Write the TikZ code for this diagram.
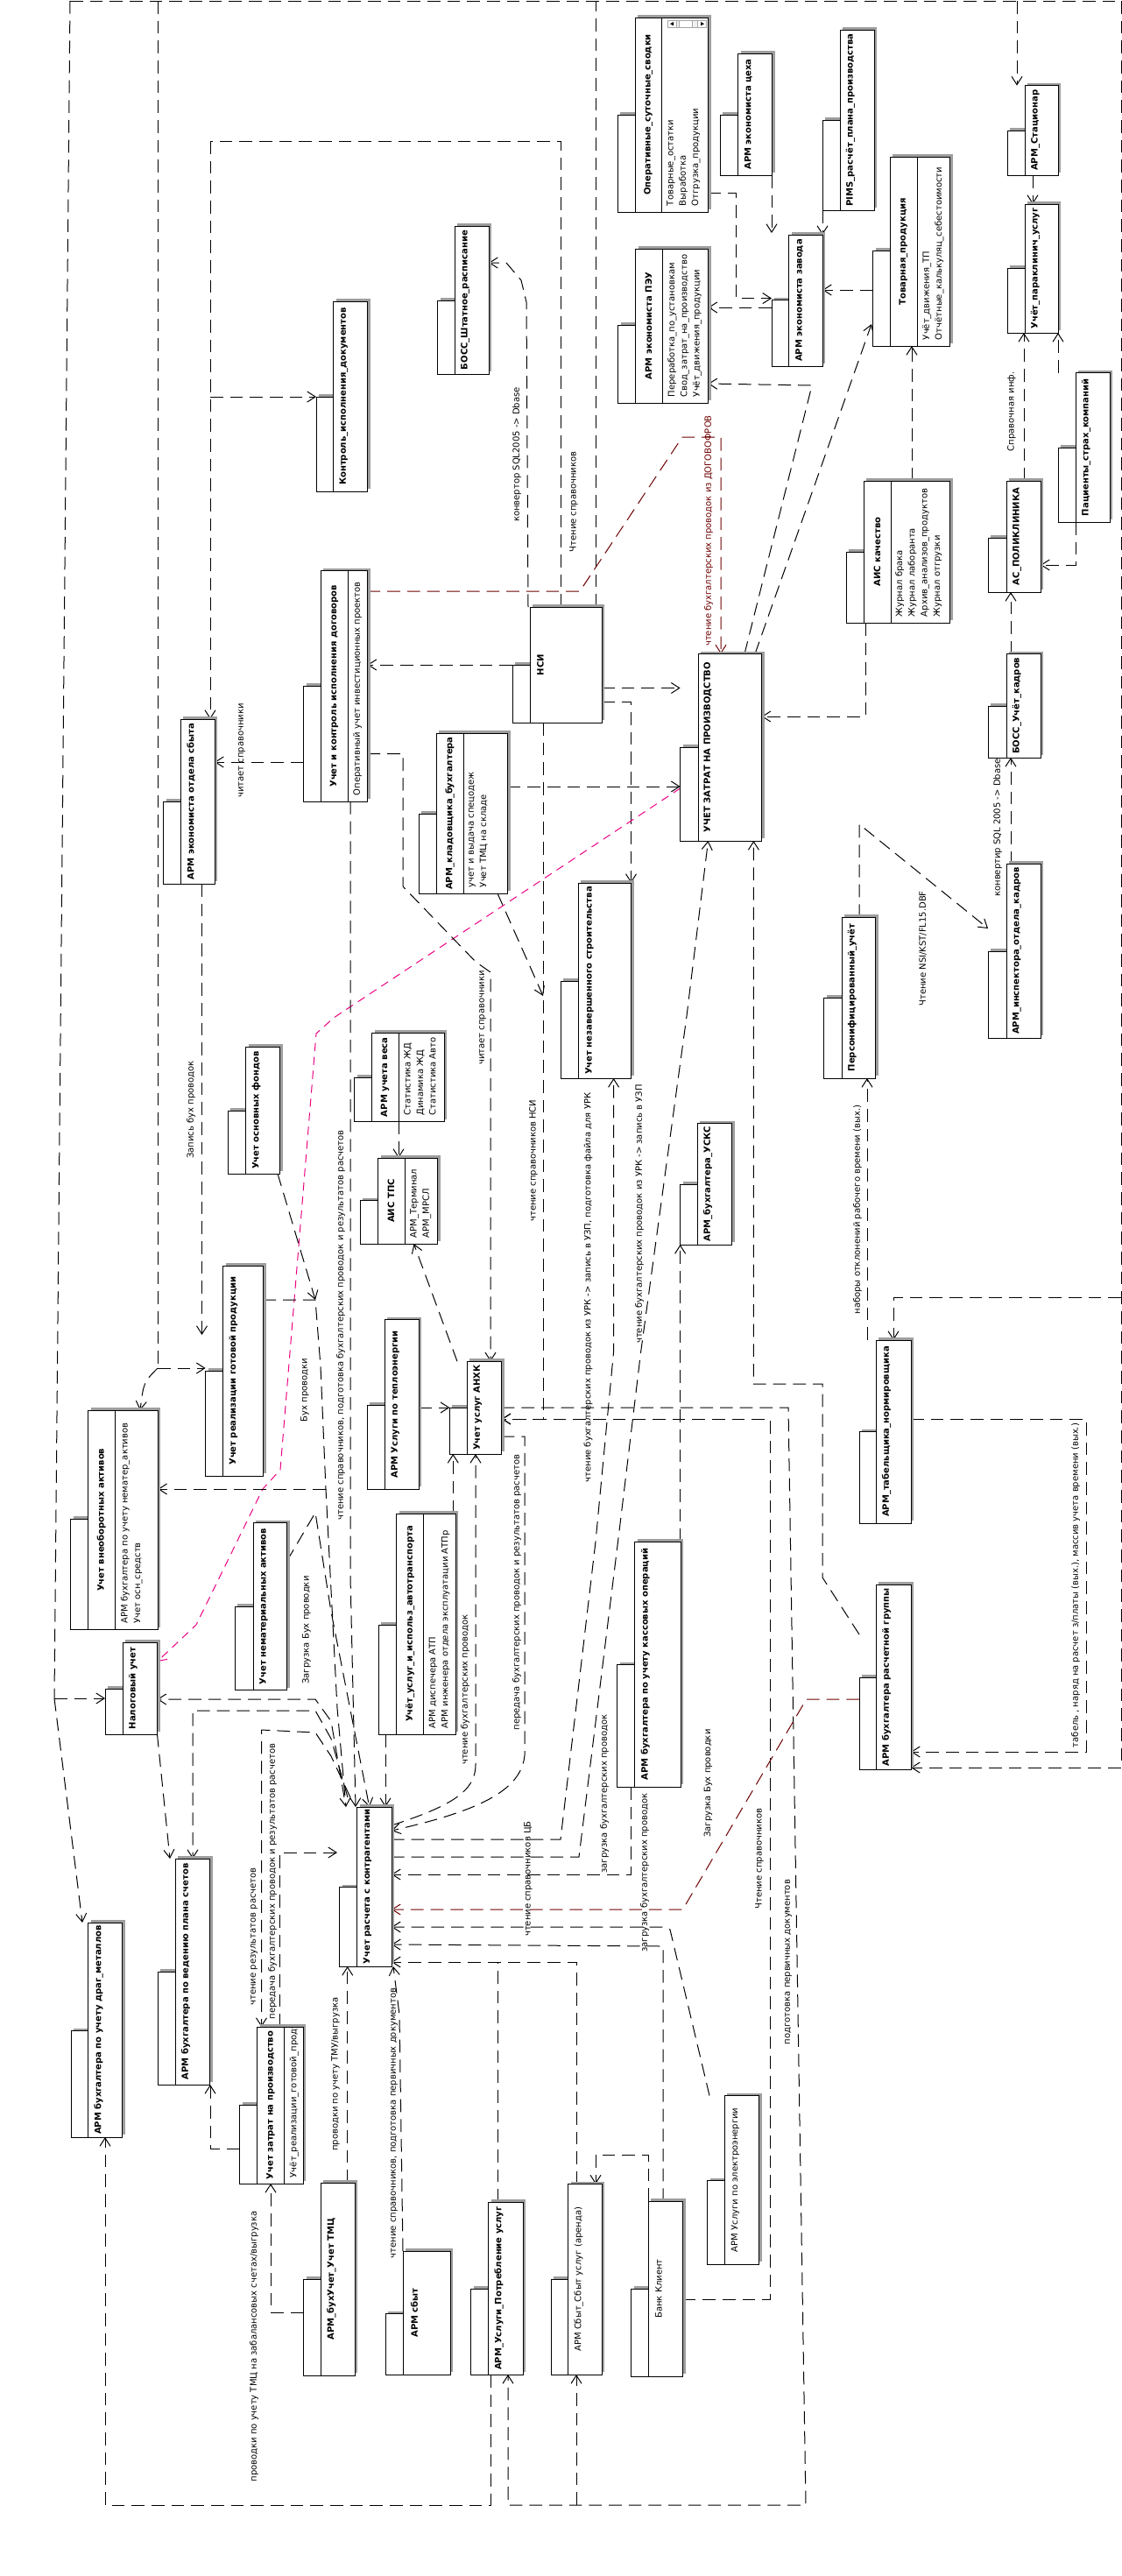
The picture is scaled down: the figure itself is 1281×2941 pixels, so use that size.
\documentclass[tikz,border=0pt]{standalone}
\usepackage{fontspec}
\setmainfont{DejaVu Sans}
\usetikzlibrary{arrows.meta,fit}
\definecolor{shadowgray}{RGB}{158,158,158}
\definecolor{dred}{RGB}{110,0,0}
\definecolor{mag}{RGB}{235,0,130}
\pgfdeclarelayer{bg}
\pgfsetlayers{bg,main}
\newcommand\Pk[7]{%
  \fill[shd] ({#6+3},{#7-3}) rectangle ({#4+3},{#5-3});
  \fill[shd] ({#2+3},{#3-3}) rectangle ({#4+3},{#5-3});
  \node[bx,fit={(#6,#7) (#2,#5)}] (#1-t) {};
  \node[bx,fit={(#2,#3) (#4,#5)}] (#1) {};}
\newcommand\Dv[2]{\draw[line width=0.75pt] (#2,0 |- #1.north) -- (#2,0 |- #1.south);}
\newcommand\Tt[3]{\node[ttl,rotate=90] (#1-n) at ([xshift=#2*0.75pt]#1.west) {#3};}
\newcommand\TtR[3]{\node[ttlr,rotate=90] (#1-n) at ([xshift=#2*0.75pt]#1.west) {#3};}
\newcommand\At[3]{\node[att,rotate=90,anchor=north west] (#1-a) at ([xshift=#2*0.75pt,yshift=5pt]#1.south west) {#3};}
\begin{document}
\begin{tikzpicture}[x=0.75pt,y=-0.75pt,
  bx/.style={draw=black,fill=white,line width=0.75pt,inner sep=0pt,outer sep=0pt},
  shd/.style={fill=shadowgray},
  ttl/.style={font=\bfseries\fontsize{7.5pt}{9pt}\selectfont,inner sep=0pt},
  ttlr/.style={font=\fontsize{7.5pt}{9pt}\selectfont,inner sep=0pt},
  att/.style={font=\fontsize{7.5pt}{10.75pt}\selectfont,inner sep=0pt,align=left},
  lbl/.style={font=\fontsize{7.5pt}{9pt}\selectfont,inner sep=0pt,rotate=90},
  ln/.style={line width=0.75pt,dash pattern=on 11pt off 6pt},
  ar/.style={ln,-{Straight Barb[length=7pt,width=9pt]}},
  mg/.style={line width=0.75pt,draw=mag,dash pattern=on 7pt off 5pt,-{Straight Barb[length=7pt,width=9pt]}}]
\begin{pgfonlayer}{bg}
\fill[white] (0,0) rectangle (1281,2941);
\end{pgfonlayer}
\useasboundingbox (0,0) rectangle (1281,2941);

% ---------------- boxes ----------------
\Pk{kontrol}{380.5}{344}{419.5}{561}{361}{453}
\Tt{kontrol}{12}{Контроль\_исполнения\_документов}
\Pk{bshtat}{519}{258}{558}{427}{499.5}{343}
\Tt{bshtat}{12}{БОСС\_Штатное\_расписание}
\Pk{oper}{725}{20}{808.5}{242}{705}{131}
\Dv{oper}{755}
\Tt{oper}{15}{Оперативные\_суточные\_сводки}
\At{oper}{36}{Товарные\_остатки\\Выработка\\Отгрузка\_продукции}
\draw[gray!70,fill=gray!10,line width=0.4pt] (762,23) rectangle (806.5,31.4);
\draw[gray!70,fill=white,line width=0.4pt] (762,23) rectangle (772,31.4) (796.5,23) rectangle (806.5,31.4) (775,23.5) rectangle (790,31);
\fill[black] (769,25) -- (765,27.2) -- (769,29.4) -- cycle;
\fill[black] (800,25) -- (804,27.2) -- (800,29.4) -- cycle;
\Pk{ceh}{842.5}{61}{881.6}{200}{822}{131}
\Tt{ceh}{12}{АРМ экономиста цеха}
\Pk{pims}{959}{34}{998}{240}{939}{137}
\Tt{pims}{12}{PIMS\_расчёт\_плана\_производства}
\Pk{peu}{725.5}{284}{808.5}{460}{705.5}{371}
\Dv{peu}{756}
\Tt{peu}{15}{АРМ экономиста ПЭУ}
\At{peu}{36.5}{Переработка\_по\_установкам\\Свод\_затрат\_на\_производство\\Учёт\_движения\_продукции}
\Pk{zavod}{900.7}{268}{939}{418}{881}{342.5}
\Tt{zavod}{12}{АРМ экономиста завода}
\Pk{tovar}{1016}{179}{1084.6}{395}{996.6}{286}
\Dv{tovar}{1047}
\Tt{tovar}{15.5}{Товарная\_продукция}
\At{tovar}{37}{Учёт\_движения\_ТП\\Отчётные\_калькуляц\_себестоимости}
\Pk{stac}{1170}{97.6}{1208}{200}{1150}{149}
\Tt{stac}{12}{АРМ\_Стационар}
\Pk{parak}{1170}{233}{1208}{380}{1150}{306}
\Tt{parak}{12}{Учёт\_параклинич\_услуг}
\Pk{pacient}{1228}{425.6}{1267}{596}{1208}{511}
\Tt{pacient}{12}{Пациенты\_страх\_компаний}
\Pk{sbyt}{206}{821}{245}{1009}{186.5}{915}
\Tt{sbyt}{12}{АРМ экономиста отдела сбыта}
\Pk{dogov}{366}{651.6}{419.5}{915}{346.5}{783}
\Dv{dogov}{397}
\Tt{dogov}{15.5}{Учет и контроль исполнения договоров}
\At{dogov}{37}{Оперативный учет инвестиционных проектов}
\Pk{nsi}{605}{693}{687}{825}{585}{759}
\Tt{nsi}{12}{НСИ}
\Pk{klad}{498}{837}{579.5}{1020}{478}{929}
\Dv{klad}{529}
\Tt{klad}{15.5}{АРМ\_кладовщика\_бухгалтера}
\At{klad}{37}{учет и выдача спецодеж\\Учет ТМЦ на складе}
\Pk{uzp}{797}{746.5}{869.6}{960}{776.6}{853}
\Tt{uzp}{11}{УЧЕТ ЗАТРАТ НА ПРОИЗВОДСТВО}
\Pk{aisq}{986}{549}{1084.6}{711}{966}{630}
\Dv{aisq}{1017}
\Tt{aisq}{15.5}{АИС качество}
\At{aisq}{36}{Журнал брака\\Журнал лаборанта\\Архив\_анализов\_продуктов\\Журнал отгрузки}
\Pk{polik}{1149}{549}{1188}{676}{1128}{614}
\Tt{polik}{12}{АС\_ПОЛИКЛИНИКА}
\Pk{bkadr}{1149}{746.5}{1188}{865}{1128}{806}
\Tt{bkadr}{12}{БОСС\_Учёт\_кадров}
\Pk{insp}{1149}{986.4}{1188}{1185}{1128}{1086}
\Tt{insp}{12}{АРМ\_инспектора\_отдела\_кадров}
\Pk{person}{961}{1047}{999.5}{1231}{940.6}{1139}
\Tt{person}{12}{Персонифицированный\_учёт}
\Pk{nezav}{660}{1008}{720.5}{1231}{640}{1120}
\Tt{nezav}{13}{Учет незавершенного строительства}
\Pk{osnf}{280.6}{1195}{319.6}{1340}{260}{1268}
\Tt{osnf}{12}{Учет основных фондов}
\Pk{ves}{424.5}{1179}{507.4}{1280.5}{404.6}{1230}
\Dv{ves}{455}
\Tt{ves}{15}{АРМ учета веса}
\At{ves}{36.5}{Статистика ЖД\\Динамика ЖД\\Статистика Авто}
\Pk{tps}{431.5}{1322}{499.5}{1420}{411}{1370.5}
\Dv{tps}{462}
\Tt{tps}{15}{АИС ТПС}
\At{tps}{36.5}{АРМ\_Терминал\\АРМ\_МРСЛ}
\Pk{realiz}{254.5}{1445}{300.5}{1685}{234.6}{1565}
\Tt{realiz}{12}{Учет реализации готовой продукции}
\Pk{teplo}{439.3}{1506.7}{478.3}{1700}{419.3}{1604}
\Tt{teplo}{12}{АРМ Услуги по теплоэнергии}
\Pk{anhk}{533.3}{1554.3}{572.7}{1660}{513.3}{1607.3}
\Tt{anhk}{12}{Учет услуг АНХК}
\Pk{usks}{796}{1282.5}{835.5}{1421}{776.6}{1352}
\Tt{usks}{12}{АРМ\_бухгалтера\_УСКС}
\Pk{tabel}{1000}{1530}{1040}{1739}{981}{1634.6}
\Tt{tabel}{12}{АРМ\_табельщика\_нормировщика}
\Pk{vneob}{100.7}{1610}{180.3}{1860.5}{80.8}{1734}
\Dv{vneob}{131.4}
\Tt{vneob}{15}{Учет внеоборотных активов}
\At{vneob}{37}{АРМ бухгалтера по учету нематер\_активов\\Учет осн\_средств}
\Pk{nemat}{289}{1738.6}{327.7}{1929.5}{268}{1834}
\Tt{nemat}{12}{Учет нематериальных активов}
\Pk{avto}{452.6}{1728}{520}{1980}{432.3}{1855}
\Dv{avto}{483.7}
\Tt{avto}{15.5}{Учёт\_услуг\_и\_использ\_автотранспорта}
\At{avto}{37}{АРМ диспечера АТП\\АРМ инженера отдела эксплуатации АТПр}
\Pk{kass}{724.7}{1760}{777.4}{2040}{704.7}{1900.7}
\Tt{kass}{12}{АРМ бухгалтера по учету кассовых операций}
\Pk{raschgr}{1000}{1809}{1040}{2020.5}{981}{1915}
\Tt{raschgr}{12}{АРМ бухгалтера расчетной группы}
\Pk{nalog}{140}{1875}{179.5}{1980}{120}{1928}
\Tt{nalog}{12}{Налоговый учет}
\Pk{drag}{100.7}{2195}{139.7}{2440}{81}{2318.6}
\Tt{drag}{12}{АРМ бухгалтера по учету драг\_металлов}
\Pk{plan}{200}{2122}{239.6}{2380}{180}{2251}
\Tt{plan}{12}{АРМ бухгалтера по ведению плана счетов}
\Pk{kontr}{407.5}{2063}{447}{2245}{387.6}{2154.5}
\Tt{kontr}{12}{Учет расчета с контрагентами}
\Pk{zsm}{293.5}{2314}{346}{2493}{273.6}{2403}
\Dv{zsm}{324.5}
\Tt{zsm}{15.5}{Учет затрат на производство}
\begin{scope}
\clip (zsm.south west) rectangle (zsm.north east);
\At{zsm}{37}{Учёт\_реализации\_готовой\_продукции}
\end{scope}
\Pk{buhtmc}{366.4}{2492}{405.4}{2712}{346.5}{2602}
\Tt{buhtmc}{12}{АРМ\_бухУчет\_Учет ТМЦ}
\Pk{armsbyt}{460}{2570}{514}{2711}{440}{2641.5}
\Tt{armsbyt}{13}{АРМ сбыт}
\Pk{potreb}{557.5}{2514}{597}{2711}{537.6}{2613}
\Tt{potreb}{12}{АРМ\_Услуги\_Потребление услуг}
\Pk{arenda}{648.7}{2493.5}{687}{2711}{629}{2602}
\TtR{arenda}{12}{АРМ Сбыт\_Сбыт услуг (аренда)}
\Pk{bank}{740}{2513}{779.5}{2713}{720.5}{2613}
\TtR{bank}{12}{Банк Клиент}
\Pk{elek}{827.4}{2392.5}{866.6}{2585}{807.5}{2489.5}
\TtR{elek}{12}{АРМ Услуги по электроэнергии}

% ---------------- connectors ----------------
\begin{pgfonlayer}{bg}
\draw[ln] (680,0 |- nsi.north) -- (680,1);
\draw[ln] (80,1) -- (1280,1);
\draw[ar] (1280,1) -- (1280,2018) -- (raschgr.east |- 0,2018);
\draw[ar] (1280,1481) -- (1020,1481) -- (1020,0 |- tabel.north);
\draw[ar] (1161,1) -- (1161,0 |- stac.north);
\draw[ln] (180,1) -- (180,1562);
\draw[ar] (180,1562) -- (realiz-t.west |- 0,1562);
\draw[ar] (180,1562) .. controls (164,1578) .. (160,0 |- vneob.north);
\draw[ln] (80,1) -- (62,1939);
\draw[ar] (62,1939) -- (nalog-t.west |- 0,1939);
\draw[ar] (62,1939) -- (94,0 |- drag.north);
\draw[ln] (640,0 |- nsi.north) -- (640,161) -- (240,161);
\draw[ar] (240,161) -- (240,0 |- sbyt.north);
\draw[ar] (240,453) -- (kontrol-t.west |- 0,453);
\draw[ar] (603,0 |- nsi.north) -- (601,345) -- (595,320) -- (578,300) -- (bshtat.east |- 0,300);
\draw[ar,dred] (dogov.east |- 0,675) -- (662,675) -- (779,499) -- (823,499) -- (823,0 |- uzp.north);
\draw[ar] (nsi-t.west |- 0,759) -- (dogov.east |- 0,759);
\draw[ar] (dogov-t.west |- 0,870) -- (sbyt.east |- 0,870);
\draw[ar] (nsi.east |- 0,785.5) -- (uzp-t.west |- 0,785.5);
\draw[ar] (nsi.east |- 0,801) -- (720.5,801) -- (720.5,0 |- nezav.north);
\draw[ar] (klad.east |- 0,898) -- (uzp-t.west |- 0,898);
\draw[mg] (uzp-t.west |- 0,900) -- (381,1162) -- (361,1180) -- (320,1678) -- (300,1700) -- (224,1855) -- (nalog.east |- 0,1897);
\draw[ar] (230.5,0 |- sbyt.south) -- (230.5,1524);
\draw[ar] (dogov.east |- 0,860.5) -- (460,860.5) -- (460,1012) -- (543,1098) -- (560,1110) -- (560,0 |- anhk.north);
\draw[ar] (568,0 |- klad.south) -- (620,1137);
\draw[ar] (620.5,0 |- nsi.south) -- (620.5,1620) -- (anhk.east |- 0,1620);
\draw[ar] (455,0 |- ves.south) -- (455,0 |- tps.north);
\draw[ar] (522,0 |- anhk.north) -- (472.5,0 |- tps.south);
\draw[ar] (teplo.east |- 0,1607) -- (anhk-t.west |- 0,1607);
\draw[ar] (517.3,0 |- avto.north) -- (517.3,0 |- anhk-t.south);
\draw[ar] (kontr.east |- 0,2084) .. controls (515,2062) and (543,2045) .. (543,2015) -- (543,0 |- anhk.south);
\draw[ar] (anhk.east |- 0,1640) -- (599,1640) -- (599,2004) .. controls (595,2045) and (545,2068) .. (kontr.east |- 0,2090);
\draw[ar] (317,0 |- osnf.south) -- (360,1484);
\draw[ar] (realiz.east |- 0,1484) -- (360,1484) -- (366,1560) -- (372,1700) -- (385,1950) -- (395,0 |- kontr.north);
\draw[ar] (400,0 |- dogov.south) -- (400,1800) -- (406,0 |- kontr.north);
\draw[ar] (nemat.east |- 0,1782) -- (360,1727) -- (378,1840) -- (421.7,0 |- kontr.north);
\draw[ar] (440,0 |- avto-t.south) -- (440,0 |- kontr.north);
\draw[ar] (372,1700) -- (vneob.east |- 0,1700);
\draw[ar] (393,2052) -- (378,1965) -- (360,1940) -- (nalog.east |- 0,1940);
\draw[ar] (397,2052) -- (378,1985) -- (360,1953) -- (220,1953) -- (220,0 |- plan.north);
\draw[ar] (400,2052) -- (378,2005) -- (360,1978) -- (298.5,1975) -- (298.5,0 |- zsm.north);
\draw[ar] (179.5,0 |- nalog.south) -- (194,0 |- plan.north);
\draw[ar] (319,0 |- zsm.north) -- (319,2115) -- (385,2115);
\draw[ar] (zsm-t.west |- 0,2453) -- (240,2453) -- (240,0 |- plan.south);
\draw[ar] (buhtmc-t.west |- 0,2640) -- (309,2640) -- (309,0 |- zsm.south);
\draw[ar] (396.7,0 |- buhtmc.north) -- (396.7,0 |- kontr-t.south);
\draw[ar] (460,0 |- armsbyt.north) -- (456,2300) -- (449,0 |- kontr.south);
\draw[ar] (560,0 |- potreb.south) -- (560,2860) -- (120,2860) -- (120,0 |- drag.south);
\draw[ar] (anhk.east |- 0,1607) -- (900,1607) -- (920,2860) -- (580,2860) -- (580,0 |- potreb.south);
\draw[ar] (658,2860) -- (658,0 |- arenda.south);
\draw[ar] (658,0 |- arenda.north) -- (658,2240) -- (kontr.east |- 0,2240);
\draw[ln] (568,0 |- potreb.north) -- (568,2240);
\draw[ar] (bank.north west) -- (740,2460) -- (680,2460) -- (680,0 |- arenda.north);
\draw[ar] (757,0 |- bank.north) -- (757,2222) -- (kontr.east |- 0,2220);
\draw[ar] (bank.east |- 0,2625) -- (879,2625) -- (879,1620) -- (anhk.east |- 0,1620);
\draw[ar] (810,0 |- elek.north) -- (765,2203) -- (758,2200) -- (kontr.east |- 0,2200);
\draw[ar,dred] (raschgr-t.west |- 0,1940) -- (920.6,1940) -- (779.5,2180) -- (kontr.east |- 0,2180);
\draw[ar] (720.5,0 |- kass-t.south) -- (720.5,2140) -- (kontr.east |- 0,2140);
\draw[ar] (776.6,0 |- kass.north) -- (776.6,0 |- usks-t.south);
\draw[ar] (kontr.east |- 0,2120) -- (661,2120) -- (707,1748) -- (731.7,1543) -- (784,1160) -- (808.5,0 |- uzp.south);
\draw[ar] (kontr.east |- 0,2100) -- (640,2100) -- (680,1760) -- (700.6,1543) -- (700.6,0 |- nezav.south);
\draw[ar] (raschgr-t.west |- 0,1866) -- (939,1801) -- (939,1580) -- (860.4,1580) -- (860.4,0 |- uzp.south);
\draw[ar] (tabel.east |- 0,1620) -- (1240,1620) -- (1240,2000) -- (raschgr.east |- 0,2000);
\draw[ar] (990,0 |- tabel.north) -- (990,0 |- person.south);
\draw[ar] (988,0 |- aisq.south) -- (988,818) -- (uzp.east |- 0,818);
\draw[ar] (1041,0 |- aisq.north) -- (1041,0 |- tovar.south);
\draw[ar] (tovar-t.west |- 0,331) -- (zavod.east |- 0,331);
\draw[ar] (zavod-t.west |- 0,351) -- (peu.east |- 0,351);
\draw[ar] (oper.east |- 0,220) -- (840,220) -- (840,340.6) -- (zavod-t.west |- 0,340.6);
\draw[ar] (881,0 |- ceh.south) -- (881,266);
\draw[ar] (939,0 |- pims-t.south) -- (939,0 |- zavod.north);
\draw[ar] (850,0 |- uzp.north) -- (927,440) -- (peu.east |- 0,438);
\draw[ar] (862,0 |- uzp.north) -- (995,370);
\draw[ar] (1179,0 |- stac.south) -- (1179,0 |- parak.north);
\draw[ar] (1169,0 |- polik.north) -- (1169,0 |- parak.south);
\draw[ar] (1208,0 |- pacient.north) -- (1208,0 |- parak.south);
\draw[ar] (pacient.south west) -- (1228,645) -- (polik.east |- 0,645);
\draw[ar] (1154,0 |- bkadr.north) -- (1154,0 |- polik.south);
\draw[ar] (1154,0 |- insp.north) -- (1154,0 |- bkadr.south);
\draw[ar] (981,0 |- person.north) -- (981,941) -- (insp-t.west |- 0,1060);
\end{pgfonlayer}

% ---------------- labels ----------------
\node[lbl] (l1) at (590,519) {конвертор SQL2005 -> Dbase};
\node[lbl] (l2) at (655,573) {Чтение справочников};
\node[lbl,text=dred] (l3) at (809,606) {чтение бухгалтерских проводок из ДОГОВОФРОВ};
\node[lbl] (l4) at (276,857) {читает справочники};
\node[lbl] (l5) at (551,1162) {читает справочники};
\node[lbl] (l6) at (609,1325) {чтение справочников НСИ};
\node[lbl] (l7) at (218,1267) {Запись бух проводок};
\node[lbl] (l8) at (348,1587) {Бух проводки};
\node[lbl] (l9) at (389,1513) {чтение справочников, подготовка бухгалтерских проводок и результатов расчетов};
\node[lbl] (l10) at (350,1861) {Загрузка Бух проводки};
\node[lbl] (l11) at (531,1929) {чтение бухгалтерских проводок};
\node[lbl] (l12) at (590,1818) {передача бухгалтерских проводок и результатов расчетов};
\node[lbl] (l13) at (603,2145) {чтение справочников ЦБ};
\node[lbl] (l14) at (290,2211) {чтение результатов расчетов};
\node[lbl] (l15) at (311,2148) {передача бухгалтерских проводок и результатов расчетов};
\node[lbl] (l16) at (383,2368) {проводки по учету ТМУ/выгрузка};
\node[lbl] (l17) at (450,2424) {чтение справочников, подготовка первичных документов};
\node[lbl] (l18) at (290,2679) {проводки по учету ТМЦ на забалансовых счетах/выгрузка};
\node[lbl] (l19) at (671.5,1470) {чтение бухгалтерских проводок из УРК -> запись в УЗП, подготовка файла для УРК};
\node[lbl] (l20) at (730,1386) {чтение бухгалтерских проводок из УРК -> запись в УЗП};
\node[lbl] (l21) at (979,1381) {наборы отклонений рабочего времени (вых.)};
\node[lbl] (l22) at (1228,1810) {табель , наряд на расчет з/платы (вых.), массив учета времени (вых.)};
\node[lbl] (l23) at (690,2048) {загрузка бухгалтерских проводок};
\node[lbl] (l24) at (736,2138) {загрузка бухгалтерских проводок};
\node[lbl] (l25) at (808.5,2036) {Загрузка Бух проводки};
\node[lbl] (l26) at (867,2122) {Чтение справочников};
\node[lbl] (l27) at (900,2240) {подготовка первичных документов};
\node[lbl] (l28) at (1155,470) {Справочная инф.};
\node[lbl] (l29) at (1139,945) {конвертир SQL 2005 -> Dbase};
\node[lbl] (l30) at (1053.5,1083) {Чтение NSI/KST/FL15.DBF};
\end{tikzpicture}
\end{document}
